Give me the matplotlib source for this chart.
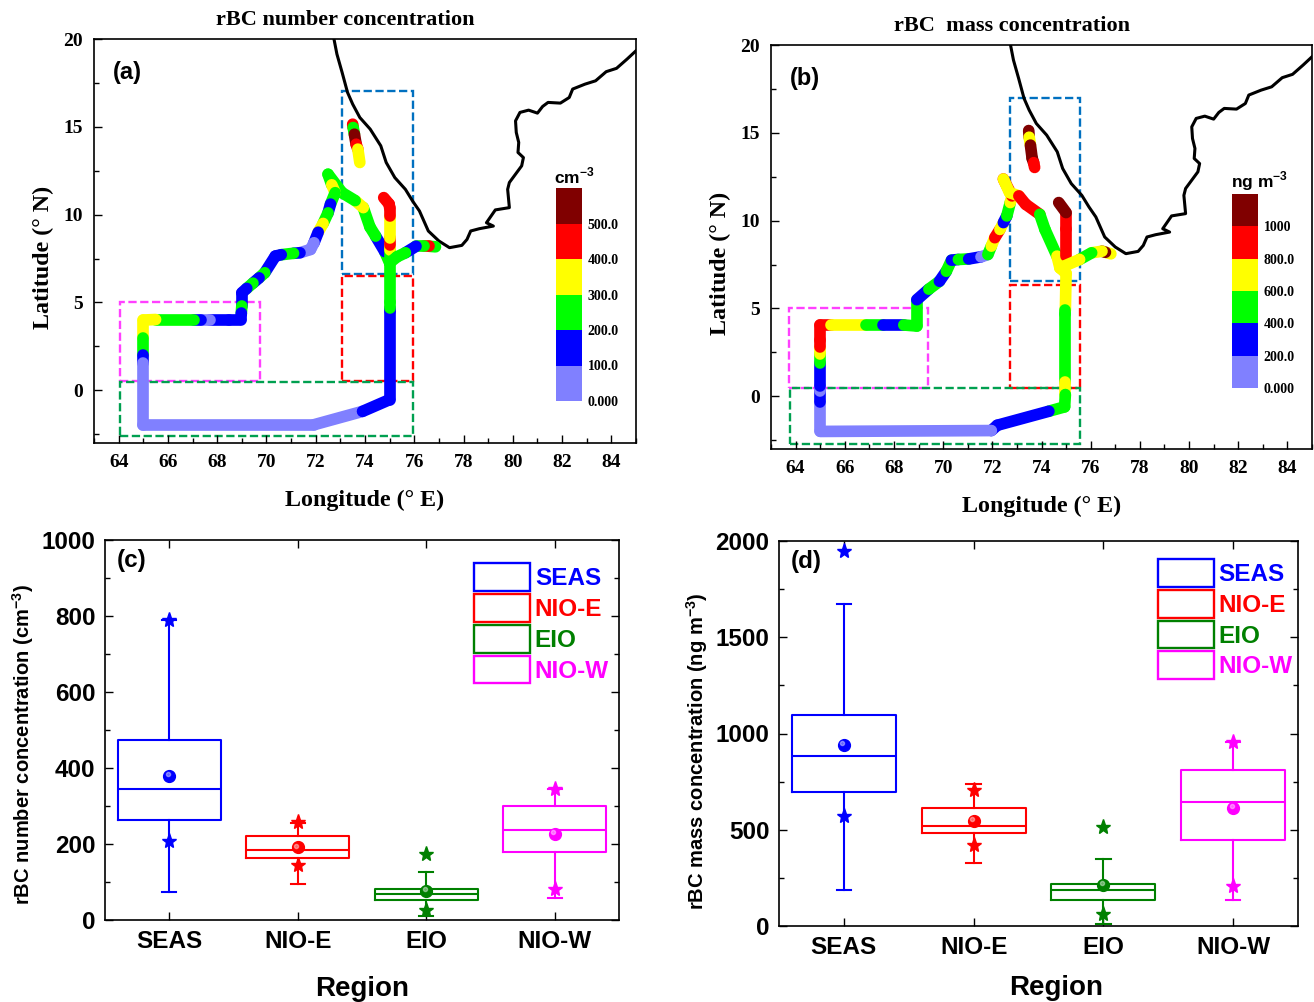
import matplotlib
matplotlib.use('Agg')
import matplotlib.pyplot as plt
from matplotlib.cm import ScalarMappable
from matplotlib.collections import LineCollection
from matplotlib.colors import BoundaryNorm, ListedColormap
from matplotlib.patches import Patch, Rectangle
from matplotlib.ticker import MultipleLocator
import numpy as np

plt.rcParams['font.family'] = ['Liberation Sans', 'DejaVu Sans']
plt.rcParams['mathtext.fontset'] = 'custom'
plt.rcParams['mathtext.bf'] = 'Liberation Sans:bold'
plt.rcParams['mathtext.rm'] = 'Liberation Sans:bold'

W, H = 1314, 1002

# coastline
coast_lon = [72.74, 72.86, 73.07, 73.29, 73.5, 73.79, 74.21, 74.64, 74.86, 75.21, 75.64, 75.93, 76.21, 76.57, 77.0,
             77.43, 77.93, 78.14, 78.29, 78.64, 79.21, 78.93, 79.29, 79.86, 79.79, 79.86, 80.36, 80.43, 80.21,
             80.24, 80.14, 80.11, 80.29, 80.64, 81.0, 81.21, 81.43, 81.93, 82.29, 82.43, 82.93, 83.36, 83.79,
             84.21, 84.64, 85.0]
coast_lat = [20.0, 19.14, 18.1, 16.96, 16.29, 15.53, 14.87, 13.92, 12.97, 12.11, 11.44, 10.78, 10.21, 9.07, 8.5,
             8.12, 8.25, 8.59, 9.07, 9.2, 9.35, 9.54, 10.27, 10.4, 11.44, 11.83, 12.78, 13.25, 13.54,
             14.11, 14.68, 15.34, 15.82, 15.95, 15.78, 16.16, 16.39, 16.35, 16.67, 17.15, 17.43, 17.62, 18.14,
             18.33, 18.86, 19.33]

# ship track, panel a: one list per leg, value belongs to the stretch ending at that point
a_north_lon = [73.5, 73.52, 73.57, 73.64, 73.71, 73.79]
a_north_lat = [15.15, 14.96, 14.58, 14.01, 13.73, 12.97]
a_north_val = [450, 450, 250, 550, 450, 350]

a_spur_lon = [75.0, 75.0, 75.0, 75.0, 75.0, 75.0, 74.98, 74.76]
a_spur_lat = [7.26, 8.0, 8.3, 8.65, 9.9, 10.4, 10.6, 10.97]
a_spur_val = [250, 250, 350, 450, 350, 450, 450, 450]

a_east_lon = [76.86, 76.6, 76.4, 76.07, 75.64, 75.3, 75.0]
a_east_lat = [8.17, 8.2, 8.2, 8.2, 7.83, 7.6, 7.26]
a_east_val = [250, 250, 450, 250, 150, 250, 250]

a_main_lon = [75.0, 74.8, 74.43, 74.2, 73.93, 73.6, 73.07, 72.5, 72.65, 72.79, 72.6, 72.5, 72.3, 72.1, 71.93,
              71.79, 71.36, 71.1, 70.6, 70.36, 69.93, 69.7, 69.45, 69.2, 69.0, 69.0, 68.98, 68.96, 68.5, 67.7,
              67.36, 67.05, 65.5, 65.0, 65.0, 65.0, 65.0, 65.0, 71.93, 73.9, 75.0, 75.0, 75.0, 75.0, 75.0]
a_main_lat = [7.26, 7.9, 8.78, 9.3, 10.4, 10.8, 11.25, 12.3, 11.7, 11.25, 10.6, 10.1, 9.5, 9.0, 8.4,
              8.02, 7.83, 7.8, 7.72, 7.64, 6.69, 6.4, 6.1, 5.8, 5.55, 4.8, 4.4, 4.03, 4.03, 4.03,
              4.03, 4.03, 4.03, 4.0, 3.0, 2.03, 1.56, -1.96, -1.96, -1.2, -0.53, 4.5, 4.7, 5.0, 7.26]
a_main_val = [250, 250, 150, 250, 250, 350, 250, 250, 250, 350, 250, 150, 250, 350, 150,
              50, 50, 150, 250, 150, 150, 250, 150, 250, 150, 150, 250, 150, 150, 150,
              50, 150, 250, 350, 350, 250, 150, 50, 50, 50, 150, 150, 150, 250, 250]

# ship track, panel b
b_north_lon = [73.48, 73.5, 73.55, 73.62, 73.68, 73.72]
b_north_lat = [15.13, 14.75, 14.3, 13.55, 13.3, 13.03]
b_north_val = [1100, 1100, 700, 1100, 1100, 900]

b_spur_lon = [75.0, 75.0, 75.0, 74.7]
b_spur_lat = [7.98, 9.5, 10.46, 11.03]
b_spur_val = [900, 900, 900, 1100]

b_east_lon = [76.82, 76.6, 76.46, 76.04, 75.55, 74.75]
b_east_lat = [8.11, 8.2, 8.26, 8.17, 7.79, 7.31]
b_east_val = [700, 700, 1000, 700, 500, 700]

b_main_lon = [74.75, 75.0, 74.97, 74.97, 74.97, 74.97, 74.94, 74.3, 72.2, 71.96, 65.0, 65.0, 65.0, 65.0, 65.0, 65.0,
              65.0, 65.0, 65.0, 65.45, 66.85, 67.55, 68.4, 68.93, 68.93, 69.42, 69.85, 70.13, 70.34, 70.62,
              71.04, 71.54, 71.82, 71.96, 72.1, 72.31, 72.45, 72.59, 72.73, 72.8, 72.45, 72.7, 73.08, 73.36,
              73.93, 74.14, 74.63, 74.75]
b_main_lat = [7.31, 7.0, 4.9, 4.7, 0.8, 0.1, -0.6, -0.85, -1.65, -1.95, -2.0, -0.3, 0.3, 0.6, 1.9, 2.4,
              2.8, 3.2, 4.06, 4.06, 4.06, 4.06, 4.06, 4.0, 5.5, 6.1, 6.55, 7.12, 7.75, 7.79,
              7.82, 7.94, 8.07, 8.55, 9.03, 9.5, 9.89, 10.27, 11.03, 11.41, 12.37, 11.6, 11.41, 10.93,
              10.36, 9.5, 7.98, 7.31]
b_main_val = [700, 700, 700, 500, 500, 700, 500, 500, 300, 300, 100, 100, 300, 100, 300, 500,
              700, 900, 900, 900, 700, 500, 300, 500, 500, 300, 500, 300, 500, 300,
              500, 300, 100, 500, 700, 900, 700, 300, 500, 700, 900, 700, 700, 900,
              900, 500, 500, 700]

# box stats per region
regions = ['SEAS', 'NIO-E', 'EIO', 'NIO-W']
region_colors = ['#0000ff', '#ff0000', '#008000', '#ff00ff']
c_low = [74, 94, 10, 57]
c_q1 = [262, 164, 53, 178]
c_med = [346, 184, 68, 236]
c_q3 = [473, 221, 81, 299]
c_high = [790, 254, 126, 345]
c_mean = [378, 191, 76, 226]
c_star_hi = [790, 257, 175, 344]
c_star_lo = [208, 144, 26, 81]

d_low = [188, 328, 10, 133]
d_q1 = [698, 484, 133, 449]
d_med = [883, 522, 185, 646]
d_q3 = [1096, 615, 220, 811]
d_high = [1675, 736, 347, 958]
d_mean = [939, 546, 211, 615]
d_star_hi = [1946, 707, 513, 958]
d_star_lo = [572, 422, 62, 206]

level_colors = ['#8080ff', '#0000ff', '#00ff00', '#ffff00', '#ff0000', '#800000']


def px_axes(fig, left, top, right, bottom):
    return fig.add_axes([left / W, 1 - bottom / H, (right - left) / W, (bottom - top) / H])


def draw_leg(ax, lon, lat, val, cmap, norm):
    pts = np.column_stack([lon, lat])
    segs = np.stack([pts[:-1], pts[1:]], axis=1)
    lc = LineCollection(segs, cmap=cmap, norm=norm, linewidths=8.4, capstyle='round', joinstyle='round')
    lc.set_array(np.array(val[1:]))
    ax.add_collection(lc)


def map_panel(fig, box, legs, boxes, bounds, cb_box, cb_labels, title, title_xy, unit, unit_xy, letter):
    ax = px_axes(fig, *box)
    ax.set_xlim(63, 85)
    ax.set_ylim(-3, 20)
    cmap = ListedColormap(level_colors)
    norm = BoundaryNorm(bounds, cmap.N)
    ax.plot(coast_lon, coast_lat, color='k', lw=2.2)
    for lon, lat, val in legs:
        draw_leg(ax, lon, lat, val, cmap, norm)
    for x0, x1, y0, y1, col in boxes:
        ax.add_patch(Rectangle((x0, y0), x1 - x0, y1 - y0, fill=False, ec=col, lw=1.7, ls=(0, (3.5, 1.5)),
                               clip_on=False))
    ax.xaxis.set_major_locator(MultipleLocator(2))
    ax.xaxis.set_minor_locator(MultipleLocator(1))
    ax.yaxis.set_major_locator(MultipleLocator(5))
    ax.yaxis.set_minor_locator(MultipleLocator(2.5))
    ax.tick_params(which='major', direction='in', length=6, width=1.0, pad=8, labelsize=14)
    ax.tick_params(which='minor', direction='in', length=3.5, width=1.0)
    for lab in ax.get_xticklabels() + ax.get_yticklabels():
        lab.set_fontfamily('Liberation Serif')
        lab.set_fontweight('bold')
    for s in ax.spines.values():
        s.set_linewidth(1.2)
    ax.set_xlabel('Longitude (° E)', fontsize=17.3, fontweight='bold', family='Liberation Serif', labelpad=13.5)
    ax.set_ylabel('Latitude (° N)', fontsize=17.3, fontweight='bold', family='Liberation Serif', labelpad=7,
                  y=0.5 - 16 / 404)
    ax.text(0.035, 0.9, letter, transform=ax.transAxes, fontsize=17, fontweight='bold')
    fig.text(title_xy[0] / W, 1 - title_xy[1] / H, title, fontsize=16, fontweight='bold',
             family='Liberation Serif', ha='center', va='center')
    fig.text(unit_xy[0] / W, 1 - unit_xy[1] / H, unit, fontsize=12.5, fontweight='bold', ha='center', va='center')
    cax = px_axes(fig, *cb_box)
    cb = fig.colorbar(ScalarMappable(norm=norm, cmap=cmap), cax=cax, ticks=bounds[:-1], spacing='uniform')
    cb.outline.set_visible(False)
    cb.ax.minorticks_off()
    cb.ax.set_yticklabels(cb_labels, fontsize=10, fontweight='bold', family='Liberation Serif')
    cb.ax.tick_params(length=0, pad=4)
    return ax


def box_panel(fig, box, low, q1, med, q3, high, mean, star_hi, star_lo, ymax, major, minor, ylabel, ylabel_y, letter,
              legend_xy, xlabel_x, xlabel_pad):
    ax = px_axes(fig, *box)
    x = [1, 2, 3, 4]
    for i, col in enumerate(region_colors):
        stats = [{'whislo': low[i], 'q1': q1[i], 'med': med[i], 'q3': q3[i], 'whishi': high[i], 'fliers': []}]
        props = dict(color=col, linewidth=1.5)
        ax.bxp(stats, positions=[x[i]], widths=0.8, showfliers=False, boxprops=props, medianprops=props,
               whiskerprops=props, capprops=props, capwidths=0.11, manage_ticks=False)
        ax.plot(x[i], mean[i], 'o', color=col, ms=8.5, zorder=5)
        ax.plot(x[i] - 0.012, mean[i] + ymax * 0.005, 'o', color='white', ms=3, alpha=0.4, zorder=6)
        ax.plot([x[i], x[i]], [star_hi[i], star_lo[i]], '*', color=col, ms=11, zorder=5, clip_on=False)
    ax.set_xlim(0.5, 4.5)
    ax.set_ylim(0, ymax)
    ax.set_xticks(x)
    ax.set_xticklabels(regions)
    ax.yaxis.set_major_locator(MultipleLocator(major))
    ax.yaxis.set_minor_locator(MultipleLocator(minor))
    ax.tick_params(which='major', direction='in', length=6, width=1.0, top=True, right=True, pad=7)
    ax.tick_params(which='minor', direction='in', length=3.5, width=1.0, right=True)
    ax.tick_params(axis='x', which='minor', length=0)
    for lab in ax.get_xticklabels() + ax.get_yticklabels():
        lab.set_fontsize(17.5)
        lab.set_fontweight('bold')
    for s in ax.spines.values():
        s.set_linewidth(1.2)
    ax.set_xlabel('Region', fontsize=20, fontweight='bold', labelpad=xlabel_pad, x=xlabel_x)
    ax.set_ylabel(ylabel, fontsize=14.5, fontweight='bold', labelpad=4, y=ylabel_y)
    ax.text(0.022, 0.93, letter, transform=ax.transAxes, fontsize=17.5, fontweight='bold')
    handles = [Patch(facecolor='none', edgecolor=c, linewidth=1.7, label=r) for r, c in zip(regions, region_colors)]
    ax.legend(handles=handles, loc='upper left', bbox_to_anchor=legend_xy, frameon=False,
              handlelength=2.3, handleheight=1.38, labelspacing=0.125, handletextpad=0.2, borderpad=0,
              borderaxespad=0, labelcolor=region_colors, prop={'weight': 'bold', 'size': 17.5})
    return ax


fig = plt.figure(figsize=(W / 100, H / 100), dpi=100)

map_panel(fig, (94, 39, 636, 443),
          [(a_main_lon, a_main_lat, a_main_val), (a_north_lon, a_north_lat, a_north_val),
           (a_spur_lon, a_spur_lat, a_spur_val), (a_east_lon, a_east_lat, a_east_val)],
          [(73.07, 75.93, 6.6, 17.05, '#0070c0'), (73.07, 75.93, 0.55, 6.5, '#ff0000'),
           (64.04, 69.74, 0.55, 5.0, '#ff40ff'), (64.07, 75.93, -2.6, 0.5, '#00a050')],
          [0, 100, 200, 300, 400, 500, 600], (556, 188, 582, 401),
          ['0.000', '100.0', '200.0', '300.0', '400.0', '500.0'],
          'rBC number concentration', (345, 20), 'cm$^{-3}$', (574, 176), '(a)')

map_panel(fig, (771, 45, 1312, 449),
          [(b_main_lon, b_main_lat, b_main_val), (b_north_lon, b_north_lat, b_north_val),
           (b_spur_lon, b_spur_lat, b_spur_val), (b_east_lon, b_east_lat, b_east_val)],
          [(72.73, 75.55, 6.55, 17.0, '#0070c0'), (72.73, 75.55, 0.45, 6.35, '#ff0000'),
           (63.72, 69.4, 0.5, 5.0, '#ff40ff'), (63.76, 75.55, -2.7, 0.45, '#00a050')],
          [0, 200, 400, 600, 800, 1000, 1200], (1232, 194, 1258, 388),
          ['0.000', '200.0', '400.0', '600.0', '800.0', '1000'],
          'rBC  mass concentration', (1012, 26), 'ng m$^{-3}$', (1260, 181), '(b)')

box_panel(fig, (105, 540, 619, 920), c_low, c_q1, c_med, c_q3, c_high, c_mean, c_star_hi, c_star_lo,
          1000, 200, 100, 'rBC number concentration (cm$^{-3}$)', 0.5 - 15 / 380, '(c)', (0.718, 0.939), 0.5, 17)
box_panel(fig, (779, 541, 1298, 926), d_low, d_q1, d_med, d_q3, d_high, d_mean, d_star_hi, d_star_lo,
          2000, 500, 250, 'rBC mass concentration (ng m$^{-3}$)', 0.5 - 18 / 385, '(d)', (0.73, 0.953), 0.533, 12)

fig.savefig('out.png', dpi=100)
